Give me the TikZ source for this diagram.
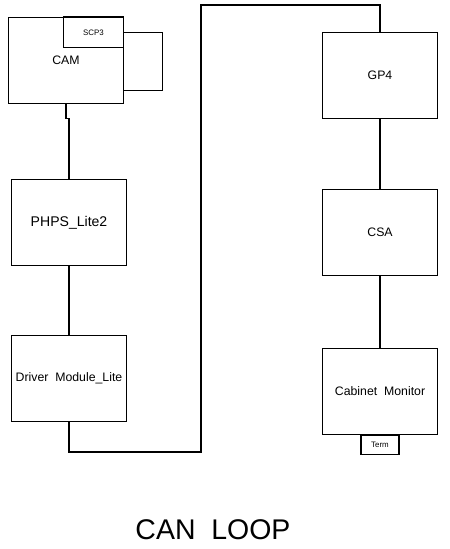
\documentclass[tikz,border=0pt]{standalone}
\usepackage{fontspec}
\setmainfont{Liberation Sans}
\usetikzlibrary{positioning}

\begin{document}
\begin{tikzpicture}[
      x=0.02cm,y=-0.02cm,
      line width=0.6pt,
      node distance=1.4cm,
      unit/.style={rectangle,draw=black,inner sep=0pt,align=center,minimum width=2.3cm,minimum height=1.72cm,font=\fontsize{7}{8}\selectfont},
      tag/.style={rectangle,draw=black,inner sep=0pt,align=center,font=\fontsize{4.5}{5}\selectfont},
      wire/.style={draw=black,line width=0.6pt}
    ]
    \useasboundingbox (0,0) rectangle (450,549);
    \node[unit,anchor=north west] (cam) at (8,17) {CAM};
    \node[tag,anchor=north east,minimum width=1.2cm,minimum height=0.6cm] (scp) at (cam.north east) {SCP3};
    \draw[line width=1.3pt] (scp.north west) -- (scp.north east);
    \node[unit,below=1.5cm of cam,xshift=0.06cm,font=\fontsize{8}{9}\selectfont] (phps) {PHPS\_Lite2};
    \node[unit,below=1.38cm of phps] (drv) {Driver\ \ Module\_Lite};
    \node[unit,anchor=north west] (gp4) at (322,32) {GP4};
    \node[unit,below=of gp4] (csa) {CSA};
    \node[unit,below=1.43cm of csa] (cab) {Cabinet\ \ Monitor};
    \node[tag,anchor=north,minimum width=0.76cm,minimum height=0.38cm] (term) at (cab.south) {Term};
    \coordinate (lowc) at (201,452);
    \coordinate (topc) at (201,5);
    % loop on the CAM side
    \draw[wire] (scp.east) -- ++(38,0) |- ([yshift=0.28cm]cam.south east);
    \draw[wire] (cam.south) -- ++(0,14) -| (phps.north);
    \draw[wire] (phps) -- (drv);
    \draw[wire] (drv.south) |- (lowc) -- (topc) -| (gp4.north);
    \draw[wire] (gp4) -- (csa);
    \draw[wire] (csa) -- (cab);
    \node[font=\fontsize{16.2}{18}\selectfont] (title) at (213,530) {CAN\ \ LOOP};
  \end{tikzpicture}
\end{document}
